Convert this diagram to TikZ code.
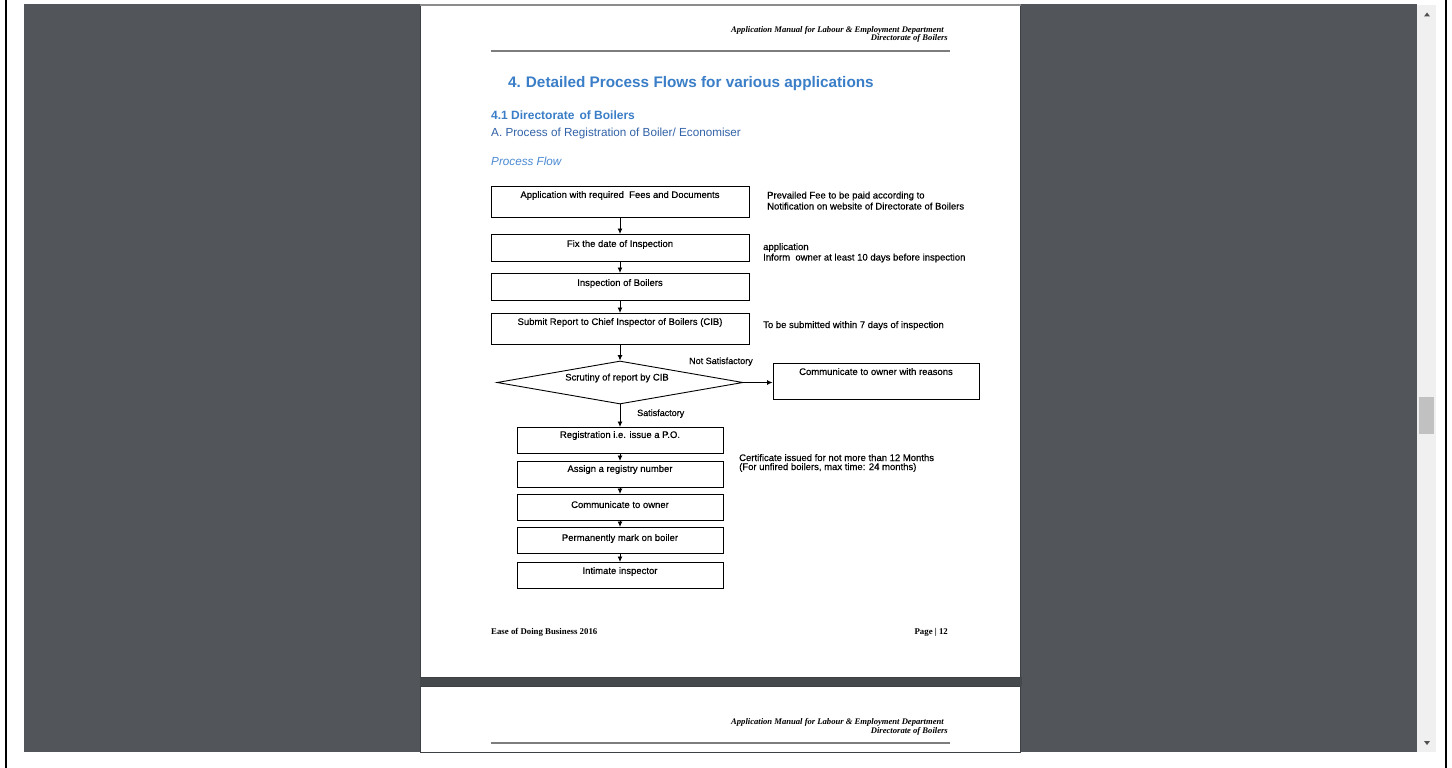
\documentclass[tikz,border=0pt]{standalone}
\usepackage{fontspec}
\setmainfont{Liberation Sans}
\newfontfamily\hdrfont{Liberation Serif}
\newfontfamily\flowfont[FakeBold=0.35]{Liberation Sans}
\usetikzlibrary{arrows.meta,shapes.geometric}
\newcommand\fsz[1]{\fontsize{#1}{#1}\selectfont}
\definecolor{viewerbg}{RGB}{82,86,90}
\definecolor{shadowc}{RGB}{62,65,68}
\definecolor{trackc}{RGB}{240,240,240}
\definecolor{thumbc}{RGB}{193,193,193}
\definecolor{arrowc}{RGB}{80,80,80}
\definecolor{headblue}{RGB}{58,126,200}
\definecolor{subblue}{RGB}{50,98,168}
\definecolor{flowblue}{RGB}{74,138,210}
\definecolor{rulegrey}{RGB}{125,125,125}
\tikzset{
  flowbox/.style={draw=black, line width=0.9pt, inner xsep=0pt, inner ysep=0pt, font=\flowfont\fsz{9.5}, anchor=north},
  widebox/.style={flowbox, minimum width=258pt},
  narrowbox/.style={flowbox, minimum width=206pt},
  flowarrow/.style={-{Latex[length=5.5pt,width=5pt]}, line width=0.9pt},
  note/.style={anchor=base west, inner sep=0pt, font=\flowfont\fsz{9.5}},
  hdr/.style={anchor=base east, inner sep=0pt, font=\hdrfont\bfseries\itshape\fsz{8.6}},
  ftr/.style={inner sep=0pt, font=\hdrfont\bfseries\fsz{8.8}},
}
\begin{document}
\begin{tikzpicture}[x=1pt,y=-1pt]
\useasboundingbox (0,0) rectangle (1452,768);
\fill[white] (0,0) rectangle (1452,768);
% viewer frame
\fill[black] (5,0) rectangle (7,768);
\fill[black] (1445,0) rectangle (1447,768);
\fill[viewerbg] (24,4.5) rectangle (1417,752);
% scrollbar
\fill[trackc] (1417,5) rectangle (1436,752);
\fill[thumbc] (1419,397) rectangle (1434,434);
\fill[arrowc] (1424,16.5) -- (1430,16.5) -- (1427,12.5) -- cycle;
\fill[arrowc] (1424,741) -- (1430,741) -- (1427,745) -- cycle;
% pages
\fill[viewerbg!85!black] (419.5,677) rectangle (1021.5,686);
\filldraw[fill=white, draw=shadowc, line width=1pt] (420.5,4.5) rectangle (1020.5,677);
\filldraw[fill=white, draw=shadowc, line width=1pt] (420.5,686) rectangle (1020.5,752);
\fill[black!45] (420,4.5) rectangle (1021,6.5);
% page header
\node[hdr] (hdr1) at (944,32.5) {Application Manual for Labour \& Employment Department};
\node[hdr] (hdr2) at (948,41) {Directorate of Boilers};
\draw[rulegrey, line width=2pt] (491,50.7) -- (950,50.7);
% headings
\node[anchor=base west, inner sep=0pt, font=\bfseries\fsz{15.3}, text=headblue] (title) at (508,88) {4.\hspace{5pt}Detailed Process Flows for various applications};
\node[anchor=base west, inner sep=0pt, font=\bfseries\fsz{12}, text=headblue] (sec) at (491,120) {4.1 Directorate\hspace{5pt}of Boilers};
\node[anchor=base west, inner sep=0pt, font=\fsz{11.7}, text=subblue] (sub) at (491,136) {A. Process of Registration of Boiler/ Economiser};
\node[anchor=base west, inner sep=0pt, font=\itshape\fsz{11.7}, text=flowblue] (pf) at (491,165) {Process Flow};
% flow boxes
\node[widebox, text height=11.5pt, text depth=19.5pt] (b1) at (620,186) {Application with required\ \ Fees and Documents};
\node[widebox, text height=12.5pt, text depth=14.5pt] (b2) at (620,234) {Fix the date of Inspection};
\node[widebox, text height=12.5pt, text depth=14.5pt] (b3) at (620,273) {Inspection of Boilers};
\node[widebox, text height=11.5pt, text depth=19.5pt] (b4) at (620,313) {Submit Report to Chief Inspector of Boilers (CIB)};
\node[diamond, draw=black, line width=0.9pt, minimum width=246pt, minimum height=43pt, inner sep=0pt] (dia) at (620,382.5) {};
\node[anchor=base, inner sep=0pt, font=\flowfont\fsz{9.5}] (diatxt) at (617,380.5) {Scrutiny of report by CIB};
\node[flowbox, minimum width=206pt, text height=11.5pt, text depth=24.5pt] (comm) at (876,363) {Communicate to owner with reasons};
\node[narrowbox, text height=10.5pt, text depth=15.5pt] (c1) at (620,427) {Registration i.e. issue a P.O.};
\node[narrowbox, text height=10.5pt, text depth=15.5pt] (c2) at (620,461) {Assign a registry number};
\node[narrowbox, text height=13.5pt, text depth=12.5pt] (c3) at (620,494) {Communicate to owner};
\node[narrowbox, text height=13.5pt, text depth=12.5pt] (c4) at (620,527) {Permanently mark on boiler};
\node[narrowbox, text height=11.5pt, text depth=14.5pt] (c5) at (620,562) {Intimate inspector};
% connectors
\draw[flowarrow] (b1.south) -- (b2.north);
\draw[flowarrow] (b2.south) -- (b3.north);
\draw[flowarrow] (b3.south) -- (b4.north);
\draw[flowarrow] (b4.south) -- (dia.north);
\draw[flowarrow] (dia.east) -- (dia.east -| comm.west);
\draw[flowarrow] (dia.south) -- (c1.north);
\draw[flowarrow] (c1.south) -- (c2.north);
\draw[flowarrow] (c2.south) -- (c3.north);
\draw[flowarrow] (c3.south) -- (c4.north);
\draw[flowarrow] (c4.south) -- (c5.north);
% labels and notes
\node[note, font=\flowfont\fsz{9}] (notsat) at (689,364) {Not Satisfactory};
\node[note, font=\flowfont\fsz{9}] (sat) at (637,416) {Satisfactory};
\node[note] (n1a) at (767,198.5) {Prevailed Fee to be paid according to};
\node[note] (n1b) at (767,209.5) {Notification on website of Directorate of Boilers};
\node[note] (n2a) at (763,250) {application};
\node[note] (n2b) at (763,260.5) {Inform\ \ owner at least 10 days before inspection};
\node[note] (n3) at (763,328) {To be submitted within 7 days of inspection};
\node[note] (n4a) at (739,461) {Certificate issued for not more than 12 Months};
\node[note] (n4b) at (739,470) {(For unfired boilers, max time: 24 months)};
% footer
\node[ftr, anchor=base west] (f1) at (491,634) {Ease of Doing Business 2016};
\node[ftr, anchor=base east] (f2) at (948,634) {Page | 12};
% second page header
\node[hdr] (hdr3) at (944,724) {Application Manual for Labour \& Employment Department};
\node[hdr] (hdr4) at (948,733) {Directorate of Boilers};
\draw[rulegrey, line width=2pt] (491,743) -- (950,743);
\end{tikzpicture}
\end{document}
